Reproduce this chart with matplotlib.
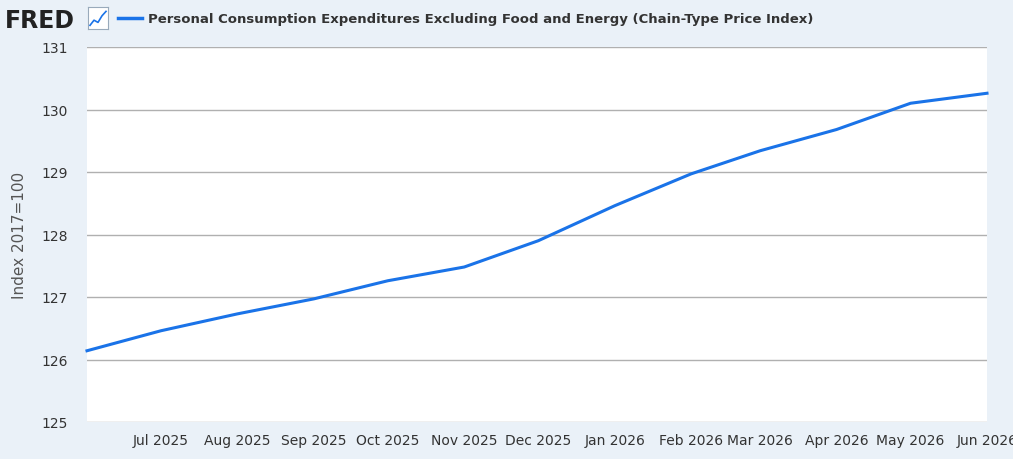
import matplotlib
matplotlib.use("Agg")
import matplotlib.pyplot as plt
import matplotlib.dates as mdates
import pandas as pd

months = pd.date_range("2025-06-01", "2026-06-01", freq="MS")
values = [126.14, 126.46, 126.73, 126.97, 127.26, 127.48, 127.90,
          128.46, 128.97, 129.34, 129.68, 130.10, 130.26]
title = "Personal Consumption Expenditures Excluding Food and Energy (Chain-Type Price Index)"

bg = "#eaf1f8"
fig = plt.figure(figsize=(10.13, 4.6), dpi=100, facecolor=bg)
ax = fig.add_axes([87 / 1013, 37 / 460, 900 / 1013, 375 / 460])
ax.set_facecolor("white")
ax.plot(months, values, color="#1a73e8", lw=2.2, clip_on=False)

ax.set_xlim(months[0], months[-1])
ax.set_ylim(125, 131)
ax.set_yticks(range(125, 132))
ax.grid(axis="y", color="#b0b0b0", lw=1)
ax.xaxis.set_major_locator(mdates.MonthLocator())
ax.xaxis.set_major_formatter(mdates.DateFormatter("%b %Y"))
ax.tick_params(axis="both", length=0, labelsize=10, colors="#333333", pad=8)
ax.tick_params(axis="y", pad=14)
for s in ax.spines.values():
    s.set_visible(False)
ax.set_ylabel("Index 2017=100", fontsize=11, color="#555555", labelpad=10)
fig.canvas.draw()
ax.get_xticklabels()[0].set_visible(False)

fig.text(0.005, 0.955, "FRED", fontsize=17, fontweight="bold", color="#222222", va="center")
# small chart icon next to the logo
icon = fig.add_axes([88 / 1013, 430 / 460, 20 / 1013, 22 / 460])
icon.set_facecolor("white")
icon.plot([0, 1, 2, 3, 4], [0.5, 1.2, 0.9, 1.8, 2.4], color="#1a73e8", lw=1.2)
icon.set_xlim(-0.5, 4.5)
icon.set_ylim(0, 3)
icon.set_xticks([])
icon.set_yticks([])
for s in icon.spines.values():
    s.set_color("#9ab")
    s.set_linewidth(0.8)
fig.lines.append(plt.Line2D([118 / 1013, 142 / 1013], [0.958, 0.958], color="#1a73e8", lw=2.5,
                            transform=fig.transFigure))
fig.text(148 / 1013, 0.958, title, fontsize=9.5, fontweight="bold", color="#333333", va="center")

fig.savefig("out.png", dpi=100, facecolor=bg)
